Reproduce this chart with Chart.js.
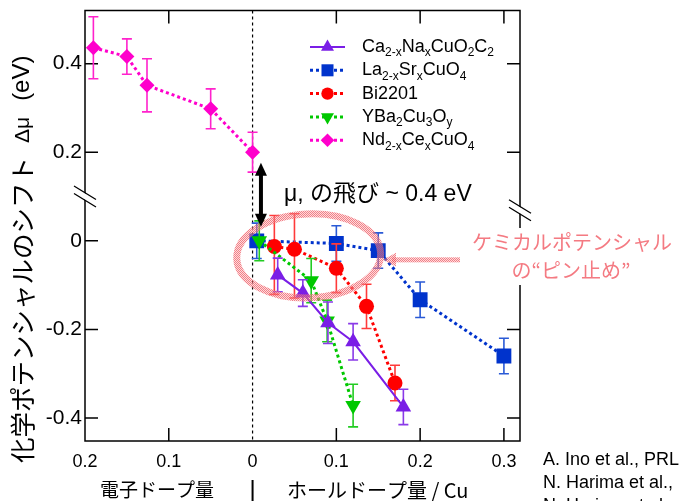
<!DOCTYPE html>
<html><head><meta charset="utf-8">
<script src="https://cdn.jsdelivr.net/npm/chart.js@4.4.1/dist/chart.umd.min.js"></script>
<style>html,body{margin:0;padding:0;background:#fff;overflow:hidden}#wrap{width:684px;height:501px;position:relative}</style>
</head><body><div id="wrap"><canvas id="c" width="684" height="501"></canvas></div>
<script>
// ---- tick labels ----
const xTickValues = [-0.2, -0.1, 0, 0.1, 0.2, 0.3];
const xTickLabels = ['0.2', '0.1', '0', '0.1', '0.2', '0.3'];
const yTickValues = [-0.4, -0.2, 0, 0.2, 0.4];
const yTickLabels = ['-0.4', '-0.2', '0', '0.2', '0.4'];

// ---- series (x: doping, negative = electron doping) ----
const caX = [0.03, 0.06, 0.09, 0.12, 0.18];
const caY = [-0.077, -0.118, -0.185, -0.228, -0.375];
const caErr = [0.038, 0.03, 0.047, 0.041, 0.04];

const laX = [0.005, 0.10, 0.15, 0.20, 0.30];
const laY = [0.0, -0.006, -0.022, -0.133, -0.26];
const laErr = [0.04, 0.04, 0.04, 0.04, 0.04];

const biX = [0.026, 0.05, 0.10, 0.136, 0.17];
const biY = [-0.013, -0.019, -0.062, -0.148, -0.321];
const biErrUp = [0.07, 0.08, 0.055, 0.05, 0.04];
const biErrDown = [0.108, 0.11, 0.055, 0.05, 0.04];

const ybX = [0.008, 0.07, 0.089, 0.12];
const ybY = [0.0, -0.09, -0.181, -0.372];
const ybErr = [0.045, 0.05, 0.047, 0.048];

const ndX = [-0.19, -0.15, -0.126, -0.05, 0.0];
const ndY = [0.436, 0.416, 0.351, 0.298, 0.2];
const ndErr = [0.07, 0.04, 0.06, 0.045, 0.045];

const FONT = '"Liberation Sans", Arial, "Noto Sans CJK JP", sans-serif';
const JFONT = '"Noto Sans CJK JP", "Liberation Sans", sans-serif';

function pts(xs, ys) { return xs.map((x, i) => ({ x: x, y: ys[i] })); }

const C_CA = '#7a1ee6', C_LA = '#0033cc', C_BI = '#ff0000', C_YB = '#00c800', C_ND = '#ff00cc';

const datasets = [
  { label: 'Ca2-xNaxCuO2C2', data: pts(caX, caY), errUp: caErr, errDown: caErr, errColor: '#8a3ae8',
    borderColor: C_CA, backgroundColor: C_CA, borderWidth: 2, pointStyle: 'triangle', pointRadius: 9, order: 0 },
  { label: 'La2-xSrxCuO4', data: pts(laX, laY), errUp: laErr, errDown: laErr, errColor: '#2a5ad6',
    borderColor: C_LA, backgroundColor: C_LA, borderWidth: 3, borderDash: [3, 3], pointStyle: 'rect', pointRadius: 10.5, order: 3 },
  { label: 'Bi2201', data: pts(biX, biY), errUp: biErrUp, errDown: biErrDown, errColor: '#ff3a3a',
    borderColor: C_BI, backgroundColor: C_BI, borderWidth: 3, borderDash: [3, 3], pointStyle: 'circle', pointRadius: 7.5, order: 2 },
  { label: 'YBa2Cu3Oy', data: pts(ybX, ybY), errUp: ybErr, errDown: ybErr, errColor: '#22cc22',
    borderColor: C_YB, backgroundColor: C_YB, borderWidth: 3, borderDash: [3, 3], pointStyle: 'triangle', pointRotation: 180, pointRadius: 9, order: 1 },
  { label: 'Nd2-xCexCuO4', data: pts(ndX, ndY), errUp: ndErr, errDown: ndErr, errColor: '#ff22cc',
    borderColor: C_ND, backgroundColor: C_ND, borderWidth: 3, borderDash: [3, 3], pointStyle: 'rectRot', pointRadius: 7.5, order: 4 }
];
datasets.forEach(d => { d.showLine = true; d.pointBorderWidth = 0; d.pointHoverRadius = d.pointRadius; d.tension = 0; });

const legendRows = [
  { parts: [['Ca', 0], ['2-x', 1], ['Na', 0], ['x', 1], ['CuO', 0], ['2', 1], ['C', 0], ['2', 1]], ds: 0, solid: true },
  { parts: [['La', 0], ['2-x', 1], ['Sr', 0], ['x', 1], ['CuO', 0], ['4', 1]], ds: 1 },
  { parts: [['Bi2201', 0]], ds: 2 },
  { parts: [['YBa', 0], ['2', 1], ['Cu', 0], ['3', 1], ['O', 0], ['y', 1]], ds: 3 },
  { parts: [['Nd', 0], ['2-x', 1], ['Ce', 0], ['x', 1], ['CuO', 0], ['4', 1]], ds: 4 }
];

function marker(ctx, style, x, y, r, color, rot) {
  ctx.save(); ctx.fillStyle = color; ctx.beginPath();
  if (style === 'circle') { ctx.arc(x, y, r, 0, Math.PI * 2); }
  else if (style === 'rect') { const s = r * Math.SQRT1_2; ctx.rect(x - s, y - s, 2 * s, 2 * s); }
  else if (style === 'rectRot') { ctx.moveTo(x, y - r); ctx.lineTo(x + r, y); ctx.lineTo(x, y + r); ctx.lineTo(x - r, y); ctx.closePath(); }
  else if (style === 'triangle') {
    let a = (rot || 0) * Math.PI / 180;
    for (let k = 0; k < 3; k++) { const px = x + Math.sin(a) * r, py = y - Math.cos(a) * r; if (k) ctx.lineTo(px, py); else ctx.moveTo(px, py); a += 2 * Math.PI / 3; }
    ctx.closePath();
  }
  ctx.fill(); ctx.restore();
}

function hatch(ctx) {
  const p = document.createElement('canvas'); p.width = 2; p.height = 2;
  const c = p.getContext('2d');
  c.fillStyle = 'rgba(238,85,95,0.75)'; c.fillRect(0, 0, 1, 1); c.fillRect(1, 1, 1, 1);
  c.fillStyle = 'rgba(250,175,180,0.45)'; c.fillRect(1, 0, 1, 1); c.fillRect(0, 1, 1, 1);
  return ctx.createPattern(p, 'repeat');
}

const errorBars = {
  id: 'errorBars',
  beforeDatasetDraw(chart, args) {
    const ds = chart.data.datasets[args.index];
    if (!ds.errUp) return;
    const ctx = chart.ctx, xs = chart.scales.x, ys = chart.scales.y;
    ctx.save(); ctx.strokeStyle = ds.errColor; ctx.lineWidth = 1.6; ctx.setLineDash([]);
    ds.data.forEach((p, i) => {
      const px = xs.getPixelForValue(p.x);
      const top = ys.getPixelForValue(p.y + ds.errUp[i]);
      const bot = ys.getPixelForValue(p.y - ds.errDown[i]);
      ctx.beginPath();
      ctx.moveTo(px, top); ctx.lineTo(px, bot);
      ctx.moveTo(px - 5, top); ctx.lineTo(px + 5, top);
      ctx.moveTo(px - 5, bot); ctx.lineTo(px + 5, bot);
      ctx.stroke();
    });
    ctx.restore();
  }
};

const frame = {
  id: 'frame',
  beforeDatasetsDraw(chart) {
    const ctx = chart.ctx, a = chart.chartArea, xs = chart.scales.x, ys = chart.scales.y;
    ctx.save();
    ctx.strokeStyle = '#000'; ctx.lineWidth = 1.5;
    ctx.strokeRect(a.left, a.top, a.right - a.left, a.bottom - a.top);
    const TL = 13;
    ctx.beginPath();
    xTickValues.forEach(v => {
      const px = xs.getPixelForValue(v);
      if (px <= a.left + 1 || px >= a.right - 1) return;
      if (Math.abs(v) < 1e-9) return;
      ctx.moveTo(px, a.bottom); ctx.lineTo(px, a.bottom - TL);
      ctx.moveTo(px, a.top); ctx.lineTo(px, a.top + TL);
    });
    yTickValues.forEach(v => {
      const py = ys.getPixelForValue(v);
      ctx.moveTo(a.left, py); ctx.lineTo(a.left + TL, py);
      ctx.moveTo(a.right, py); ctx.lineTo(a.right - TL, py);
    });
    ctx.stroke();
    const x0 = xs.getPixelForValue(0);
    ctx.lineWidth = 1.2; ctx.setLineDash([3, 3]);
    ctx.beginPath(); ctx.moveTo(x0, a.top); ctx.lineTo(x0, a.bottom); ctx.stroke();
    ctx.restore();
  },
  afterDraw(chart) {
    const ctx = chart.ctx, a = chart.chartArea, xs = chart.scales.x, ys = chart.scales.y;
    ctx.save();
    function brk(cx, cy) {
      ctx.fillStyle = '#fff';
      ctx.beginPath();
      ctx.moveTo(cx - 11, cy - 10); ctx.lineTo(cx + 11, cy + 3.5); ctx.lineTo(cx + 11, cy + 10); ctx.lineTo(cx - 11, cy - 3.5);
      ctx.closePath(); ctx.fill();
      ctx.strokeStyle = '#000'; ctx.lineWidth = 1.3;
      ctx.beginPath();
      ctx.moveTo(cx - 11, cy - 10.5); ctx.lineTo(cx + 11, cy + 3);
      ctx.moveTo(cx - 11, cy - 3); ctx.lineTo(cx + 11, cy + 10.5);
      ctx.stroke();
    }
    brk(a.left, ys.getPixelForValue(0.1));
    brk(a.right, ys.getPixelForValue(0.069));

    const pat = hatch(ctx);
    const ex = xs.getPixelForValue(0.067), ey = ys.getPixelForValue(-0.034);
    ctx.strokeStyle = pat; ctx.lineWidth = 7;
    ctx.beginPath(); ctx.ellipse(ex, ey, 72, 42, -0.04, 0, Math.PI * 2); ctx.stroke();

    const ay = ys.getPixelForValue(-0.043);
    ctx.fillStyle = pat;
    ctx.fillRect(392, ay - 2.5, 68, 5);
    ctx.beginPath(); ctx.moveTo(383, ay); ctx.lineTo(396, ay - 7); ctx.lineTo(396, ay + 7); ctx.closePath(); ctx.fill();

    ctx.fillStyle = '#fff'; ctx.fillRect(466, 228, 218, 57);
    ctx.fillStyle = '#f47a82';
    ctx.font = '20px ' + JFONT; ctx.textAlign = 'center'; ctx.textBaseline = 'middle';
    ctx.fillText('ケミカルポテンシャル', 572, 242);
    ctx.fillText('の“ピン止め”', 571, 270);

    const bx = xs.getPixelForValue(0.01);
    const t1 = ys.getPixelForValue(0.176), t2 = ys.getPixelForValue(0.032);
    ctx.fillStyle = '#000'; ctx.strokeStyle = '#000'; ctx.lineWidth = 4;
    ctx.beginPath(); ctx.moveTo(bx, t1 + 10); ctx.lineTo(bx, t2 - 10); ctx.stroke();
    ctx.beginPath(); ctx.moveTo(bx, t1); ctx.lineTo(bx - 6, t1 + 13); ctx.lineTo(bx + 6, t1 + 13); ctx.closePath(); ctx.fill();
    ctx.beginPath(); ctx.moveTo(bx, t2); ctx.lineTo(bx - 6, t2 - 13); ctx.lineTo(bx + 6, t2 - 13); ctx.closePath(); ctx.fill();

    ctx.font = '23px ' + FONT; ctx.textAlign = 'left'; ctx.textBaseline = 'alphabetic';
    ctx.fillText('μ, の飛び ~ 0.4 eV', 284, 201);

    const lx0 = 310, lx1 = 345, tx = 362, ly0 = 47, step = 23.3;
    legendRows.forEach((row, i) => {
      const ds = chart.data.datasets[row.ds];
      const y = ly0 + i * step;
      ctx.save();
      ctx.strokeStyle = ds.borderColor; ctx.lineWidth = row.solid ? 2 : 3;
      ctx.setLineDash(row.solid ? [] : [3, 3]);
      ctx.beginPath(); ctx.moveTo(lx0, y); ctx.lineTo(lx1, y); ctx.stroke();
      ctx.restore();
      const st = ds.pointStyle;
      const r = st === 'triangle' ? 7.5 : st === 'rect' ? 8.5 : st === 'circle' ? 6.2 : 6.8;
      marker(ctx, st, (lx0 + lx1) / 2, y, r, ds.backgroundColor, ds.pointRotation || 0);
      let x = tx;
      ctx.fillStyle = '#000'; ctx.textBaseline = 'middle'; ctx.textAlign = 'left';
      row.parts.forEach(([t, sub]) => {
        ctx.font = (sub ? '12px ' : '18px ') + FONT;
        ctx.fillText(t, x, sub ? y + 6 : y);
        x += ctx.measureText(t).width;
      });
    });

    ctx.save();
    ctx.translate(22, 463); ctx.rotate(-Math.PI / 2);
    ctx.textAlign = 'left'; ctx.textBaseline = 'middle'; ctx.fillStyle = '#000';
    ctx.font = '25.5px ' + JFONT;
    const jt = '化学ポテンシャルのシフト';
    ctx.fillText(jt, 0, 0);
    let w = ctx.measureText(jt).width + 14;
    ctx.font = '21px ' + FONT;
    ctx.fillText('Δμ', w, 1);
    w += ctx.measureText('Δμ').width + 16;
    ctx.font = '24px ' + FONT;
    ctx.fillText('(eV)', w, 0);
    ctx.restore();

    const xz = xs.getPixelForValue(0);
    ctx.fillStyle = '#000'; ctx.textBaseline = 'middle';
    ctx.font = '19px ' + JFONT; ctx.textAlign = 'center';
    ctx.fillText('電子ドープ量', 157, 490);
    ctx.font = '20px ' + JFONT; ctx.textAlign = 'left';
    ctx.fillText('ホールドープ量 / Cu', 287, 490);
    ctx.strokeStyle = '#000'; ctx.lineWidth = 2; ctx.setLineDash([]);
    ctx.beginPath(); ctx.moveTo(xz, 480); ctx.lineTo(xz, 501); ctx.stroke();

    ctx.font = '18px ' + FONT; ctx.textAlign = 'left'; ctx.textBaseline = 'middle';
    ctx.fillText('A. Ino et al., PRL', 543, 460);
    ctx.fillText('N. Harima et al.,', 543, 483);
    ctx.fillText('N. Harima et al.', 543, 506);
    ctx.restore();
  }
};

Chart.defaults.font.family = FONT;
Chart.defaults.color = '#000';

new Chart(document.getElementById('c'), {
  type: 'scatter',
  data: { datasets: datasets },
  options: {
    responsive: false, devicePixelRatio: 1, animation: false,
    layout: { padding: { left: 0, right: 164, top: 7, bottom: 0 } },
    plugins: { legend: { display: false }, tooltip: { enabled: false } },
    scales: {
      x: {
        type: 'linear', min: -0.2, max: 0.3192,
        afterBuildTicks: s => { s.ticks = xTickValues.map(v => ({ value: v })); },
        afterFit: s => { s.height = 60; s.paddingLeft = 0; s.paddingRight = 0; },
        ticks: { callback: v => xTickLabels[xTickValues.findIndex(t => Math.abs(t - v) < 1e-9)], font: { size: 18 }, color: '#000', padding: 10, maxRotation: 0, autoSkip: false },
        grid: { display: false, drawTicks: false }, border: { display: false }
      },
      y: {
        type: 'linear', min: -0.452, max: 0.52,
        afterBuildTicks: s => { s.ticks = yTickValues.map(v => ({ value: v })); },
        afterFit: s => { s.width = 85; s.paddingTop = 0; s.paddingBottom = 0; },
        ticks: { callback: v => yTickLabels[yTickValues.findIndex(t => Math.abs(t - v) < 1e-9)], font: { size: 21 }, color: '#000', padding: 3, autoSkip: false },
        grid: { display: false, drawTicks: false }, border: { display: false }
      }
    }
  },
  plugins: [errorBars, frame]
});
</script></body></html>
